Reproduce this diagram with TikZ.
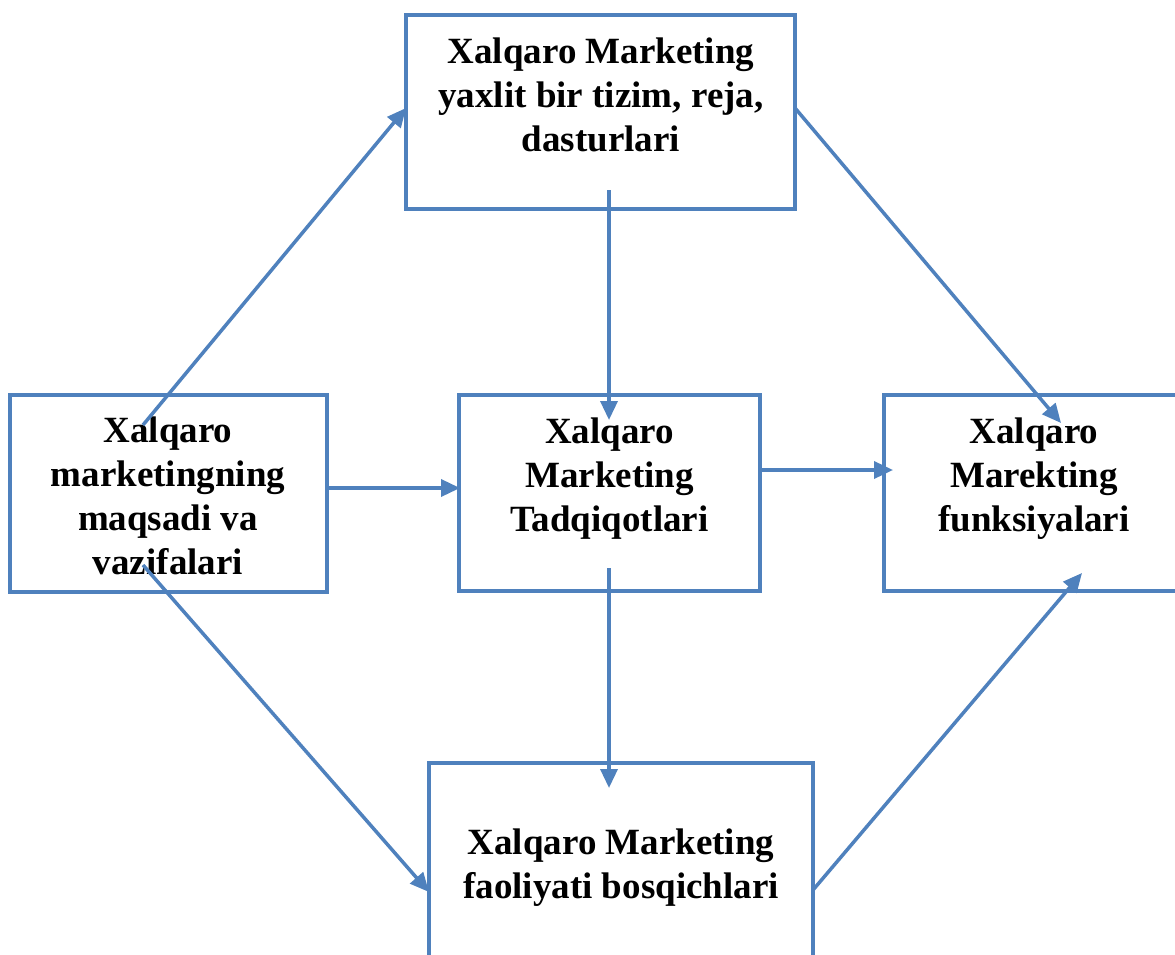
\documentclass[tikz,border=0pt]{standalone}
\usepackage{fontspec}
\setmainfont{Liberation Serif}
\usetikzlibrary{arrows.meta}
\definecolor{boxblue}{HTML}{4F81BD}
\tikzset{
  boxnode/.style={draw=boxblue, line width=3.5pt, rectangle, inner sep=0pt},
  lbl/.style={align=center, font=\fontsize{37}{44}\selectfont\bfseries, inner sep=0pt},
  conn/.style={draw=boxblue, line width=3.5pt, -{Triangle[length=19pt,width=17pt]}}
}
\begin{document}
\begin{tikzpicture}[x=1pt,y=-1pt]
\useasboundingbox (0,0) rectangle (1175,955);
\clip (0,0) rectangle (1175,955);
% boxes
\node[boxnode, minimum width=389pt, minimum height=194pt] (top) at (600.5,112) {};
\node[boxnode, minimum width=317pt, minimum height=197pt] (left) at (168.5,493.5) {};
\node[boxnode, minimum width=301pt, minimum height=196pt] (mid) at (609.5,493) {};
\node[boxnode, minimum width=330pt, minimum height=196pt] (right) at (1049,493) {};
\node[boxnode, minimum width=384pt, minimum height=230pt] (bot) at (621,878) {};
% texts
\node[lbl] (toptxt) at (601,95) {Xalqaro Marketing\\yaxlit bir tizim, reja,\\dasturlari};
\node[lbl] (lefttxt) at (168,496) {Xalqaro\\marketingning\\maqsadi va\\vazifalari};
\node[lbl] (midtxt) at (609.5,479) {Xalqaro\\Marketing\\Tadqiqotlari};
\node[lbl] (righttxt) at (1034,479) {Xalqaro\\Marekting\\funksiyalari};
\node[lbl] (bottxt) at (621,868) {Xalqaro Marketing\\faoliyati bosqichlari};
% connector endpoints
\coordinate (a1) at (143,425); \coordinate (b1) at (406,108);
\coordinate (a2) at (795,108); \coordinate (b2) at (1061,423);
\coordinate (a3) at (609,190); \coordinate (b3) at (609,420);
\coordinate (a4) at (327,488); \coordinate (b4) at (460,488);
\coordinate (a5) at (760,470); \coordinate (b5) at (893,470);
\coordinate (a6) at (609,568); \coordinate (b6) at (609,788);
\coordinate (a7) at (143,565); \coordinate (b7) at (429,892);
\coordinate (a8) at (813,890); \coordinate (b8) at (1082,573);
\draw[conn] (a1) -- (b1);
\draw[conn] (a2) -- (b2);
\draw[conn] (a3) -- (b3);
\draw[conn] (a4) -- (b4);
\draw[conn] (a5) -- (b5);
\draw[conn] (a6) -- (b6);
\draw[conn] (a7) -- (b7);
\draw[conn] (a8) -- (b8);
\end{tikzpicture}
\end{document}
